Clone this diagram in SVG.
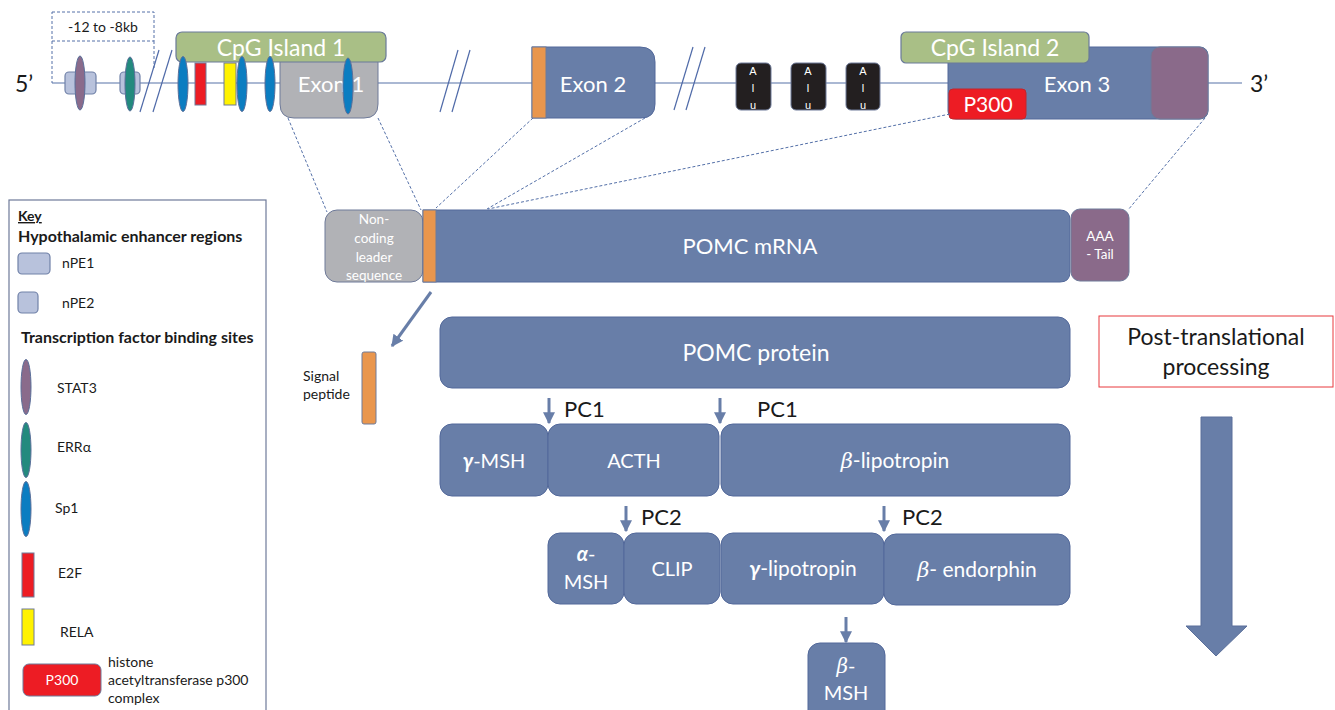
<svg xmlns="http://www.w3.org/2000/svg" width="1335" height="710" viewBox="0 0 1335 710">
<defs>
<style>
.t{font-family:Lato,"Open Sans","Liberation Sans",sans-serif}
.w{fill:#fff}
.k{fill:#1a1a1a}
.bx{fill:#687ea8;stroke:#52689a;stroke-width:1}
.gr{fill:#b1b2b6;stroke:#6e7a99;stroke-width:1}
.pu{fill:#8a6a8a;stroke:#6e7a99;stroke-width:1}
.or{fill:#e9964d;stroke:#6e7a99;stroke-width:1}
.cg{fill:#a9bf86;stroke:#6a7a99;stroke-width:1.2}
.rd{fill:#ed1c24;stroke:#6e7a99;stroke-width:1}
.ye{fill:#fff200;stroke:#6e7a99;stroke-width:1}
.sp{fill:#0b7dc1;stroke:#5a6f9a;stroke-width:1}
.er{fill:#238a7e;stroke:#5a6f9a;stroke-width:1}
.st{fill:#8a6b8b;stroke:#5a6f9a;stroke-width:1}
.np{fill:#b8c2dc;stroke:#7081a8;stroke-width:1.2}
.alu{fill:#231f20;stroke:#6e7a99;stroke-width:1}
.ds{fill:none;stroke:#5470a8;stroke-width:1;stroke-dasharray:3,2}
.brk{stroke:#4f6aa8;stroke-width:1.2}
.ar{stroke:#687ea8;stroke-width:3;fill:none}
.kt{font-size:14px}
</style>
<marker id="m" viewBox="0 0 10 10" refX="9" refY="5" markerWidth="4" markerHeight="4" orient="auto"><path d="M0,0 L10,5 L0,10 z" fill="#687ea8"/></marker>
</defs>
<rect width="1335" height="710" fill="#fff"/>

<!-- DNA line -->
<line x1="52" y1="83" x2="1242" y2="83" stroke="#8ea0c4" stroke-width="1.5"/>
<text class="t k" x="15" y="92" font-size="23">5’</text>
<text class="t k" x="1250" y="92" font-size="23">3’</text>

<g id="region">
<rect x="52" y="12" width="102" height="29" fill="#fff" stroke="#5470a8" stroke-width="1" stroke-dasharray="3,2"/>
<line x1="52" y1="41" x2="52" y2="83" class="ds"/>
<line x1="154" y1="41" x2="154" y2="68" class="ds"/>
<text class="t k" x="103" y="32" font-size="14" text-anchor="middle">-12 to -8kb</text>
</g>

<g id="nPE1"><rect x="65" y="72" width="31" height="22" rx="4" class="np"/><ellipse cx="80" cy="83" rx="5" ry="27" class="st"/></g>
<g id="nPE2"><rect x="120" y="72" width="20" height="22" rx="4" class="np"/><ellipse cx="130" cy="84" rx="5" ry="27" class="er"/></g>

<g id="breaks">
<line x1="140" y1="112" x2="159" y2="50" class="brk"/><line x1="153" y1="112" x2="172" y2="50" class="brk"/>
<line x1="440" y1="112" x2="458" y2="50" class="brk"/><line x1="452" y1="112" x2="470" y2="50" class="brk"/>
<line x1="674" y1="110" x2="693" y2="47" class="brk"/><line x1="686" y1="110" x2="705" y2="47" class="brk"/>
</g>

<g id="exon1"><path d="M280,50 H378 V104 Q378,118 364,118 H294 Q280,118 280,104 Z" class="gr"/></g>
<g id="cpg1"><rect x="176" y="32" width="210" height="30" rx="6" class="cg"/><text class="t w" x="281" y="56" font-size="23" text-anchor="middle">CpG Island 1</text></g>
<text class="t w" x="331" y="92" font-size="22" text-anchor="middle">Exon 1</text>
<g id="tfbs">
<ellipse cx="183" cy="84" rx="5" ry="27.5" class="sp"/>
<rect x="195" y="63" width="11" height="42" class="rd"/>
<rect x="224" y="63" width="12" height="42" class="ye"/>
<ellipse cx="242" cy="84" rx="5" ry="27.5" class="sp"/>
<ellipse cx="270" cy="84" rx="5" ry="27.5" class="sp"/>
<ellipse cx="348" cy="86" rx="5" ry="28" class="sp"/>
</g>

<g id="exon2">
<path d="M532,47 H640 Q655,47 655,62 V104 Q655,118 641,118 H532 Z" class="bx"/>
<rect x="532" y="47" width="14" height="71" class="or"/>
<text class="t w" x="593" y="92" font-size="22" text-anchor="middle">Exon 2</text>
</g>

<g id="alu1"><rect x="736" y="63" width="35" height="47" rx="5" class="alu"/><text font-family="'Liberation Sans',sans-serif" fill="#fff" font-size="11" text-anchor="middle"><tspan x="753" y="75">A</tspan><tspan x="753" y="92">l</tspan><tspan x="753" y="109">u</tspan></text></g>
<g id="alu2"><rect x="791" y="63" width="35" height="47" rx="5" class="alu"/><text font-family="'Liberation Sans',sans-serif" fill="#fff" font-size="11" text-anchor="middle"><tspan x="808" y="75">A</tspan><tspan x="808" y="92">l</tspan><tspan x="808" y="109">u</tspan></text></g>
<g id="alu3"><rect x="846" y="63" width="34" height="47" rx="5" class="alu"/><text font-family="'Liberation Sans',sans-serif" fill="#fff" font-size="11" text-anchor="middle"><tspan x="863" y="75">A</tspan><tspan x="863" y="92">l</tspan><tspan x="863" y="109">u</tspan></text></g>

<g id="exon3">
<rect x="948" y="47" width="260" height="72" rx="8" class="bx"/>
<rect x="1151" y="47" width="57" height="72" rx="9" class="pu"/>
<text class="t w" x="1077" y="92" font-size="22" text-anchor="middle">Exon 3</text>
</g>
<g id="cpg2"><rect x="901" y="32" width="188" height="31" rx="5" class="cg"/><text class="t w" x="995" y="56" font-size="23" text-anchor="middle">CpG Island 2</text></g>
<g id="p300"><rect x="949" y="89" width="77" height="30" rx="4" fill="#ed1c24" stroke="#c0262c" stroke-width="1"/><text class="t w" x="988" y="112" font-size="21" text-anchor="middle">P300</text></g>

<g id="connectors">
<line x1="288" y1="118" x2="327" y2="212" class="ds"/>
<line x1="378" y1="118" x2="421" y2="210" class="ds"/>
<line x1="533" y1="118" x2="436" y2="208" class="ds"/>
<line x1="645" y1="118" x2="487" y2="209" class="ds"/>
<line x1="950" y1="114" x2="488" y2="209" class="ds"/>
<line x1="1205" y1="118" x2="1128" y2="210" class="ds"/>
<line x1="431" y1="292" x2="392" y2="346" class="ar" marker-end="url(#m)"/>
<line x1="549" y1="398" x2="549" y2="423" stroke="#687ea8" stroke-width="3" marker-end="url(#m)"/>
<line x1="720" y1="398" x2="720" y2="423" stroke="#687ea8" stroke-width="3" marker-end="url(#m)"/>
<line x1="626" y1="506" x2="626" y2="531" stroke="#687ea8" stroke-width="3" marker-end="url(#m)"/>
<line x1="884" y1="506" x2="884" y2="531" stroke="#687ea8" stroke-width="3" marker-end="url(#m)"/>
<line x1="846" y1="617" x2="846" y2="642" stroke="#687ea8" stroke-width="3" marker-end="url(#m)"/>
</g>

<g id="leader"><rect x="325" y="210" width="98" height="72" rx="12" class="gr"/>
<text class="t w" font-size="13.5" text-anchor="middle"><tspan x="374" y="224">Non-</tspan><tspan x="374" y="243">coding</tspan><tspan x="374" y="262">leader</tspan><tspan x="374" y="280">sequence</tspan></text></g>
<g id="mrna"><path d="M423,210 H1060 Q1070,210 1070,220 V272 Q1070,282 1060,282 H423 Z" class="bx"/>
<rect x="423" y="210" width="13" height="72" class="or"/>
<text class="t w" x="750" y="254" font-size="22" text-anchor="middle">POMC mRNA</text></g>
<g id="tail"><rect x="1071" y="209" width="58" height="72" rx="9" class="pu"/>
<text class="t w" font-size="13.5" text-anchor="middle"><tspan x="1100" y="241">AAA</tspan><tspan x="1100" y="259">- Tail</tspan></text></g>

<g id="signal"><rect x="362" y="352" width="14" height="72" rx="2" class="or"/>
<text class="t k" font-size="14"><tspan x="303" y="381">Signal</tspan><tspan x="303" y="399">peptide</tspan></text></g>

<g id="protein"><rect x="440" y="317" width="630" height="71" rx="12" class="bx"/><text class="t w" x="756" y="361" font-size="23" text-anchor="middle">POMC protein</text></g>

<text class="t k" x="564" y="417" font-size="22">PC1</text>
<text class="t k" x="757" y="417" font-size="22">PC1</text>
<text class="t k" x="641" y="525" font-size="22">PC2</text>
<text class="t k" x="902" y="525" font-size="22">PC2</text>

<g id="gmsh"><rect x="440" y="424" width="108" height="72" rx="12" class="bx"/><text class="t w" x="494" y="468" font-size="20" text-anchor="middle"><tspan font-weight="bold" font-style="italic">γ</tspan>-MSH</text></g>
<g id="acth"><rect x="548" y="424" width="171" height="72" rx="12" class="bx"/><text class="t w" x="634" y="468" font-size="20" text-anchor="middle">ACTH</text></g>
<g id="blpt"><rect x="721" y="424" width="349" height="72" rx="12" class="bx"/><text class="t w" x="895" y="468" font-size="21" text-anchor="middle"><tspan font-style="italic" font-family="'DejaVu Serif',serif">β</tspan>-lipotropin</text></g>

<g id="amsh"><rect x="548" y="533" width="76" height="71" rx="12" class="bx"/><text class="t w" font-size="20" text-anchor="middle"><tspan x="586" y="561" font-weight="bold" font-style="italic">α</tspan><tspan>-</tspan><tspan x="586" y="589">MSH</tspan></text></g>
<g id="clip"><rect x="624" y="533" width="96" height="71" rx="12" class="bx"/><text class="t w" x="672" y="576" font-size="20" text-anchor="middle">CLIP</text></g>
<g id="glpt"><rect x="721" y="533" width="163" height="71" rx="12" class="bx"/><text class="t w" x="803" y="576" font-size="21" text-anchor="middle"><tspan font-weight="bold" font-style="italic">γ</tspan>-lipotropin</text></g>
<g id="bend"><rect x="884" y="534" width="186" height="71" rx="12" class="bx"/><text class="t w" x="977" y="577" font-size="21" text-anchor="middle"><tspan font-style="italic" font-family="'DejaVu Serif',serif">β</tspan>- endorphin</text></g>
<g id="bmsh"><rect x="808" y="643" width="77" height="80" rx="12" class="bx"/><text class="t w" font-size="20" text-anchor="middle"><tspan x="846" y="673" font-style="italic" font-family="'DejaVu Serif',serif">β</tspan><tspan>-</tspan><tspan x="846" y="700">MSH</tspan></text></g>

<g id="ptp"><rect x="1099" y="316" width="234" height="71" fill="#fff" stroke="#e8383d" stroke-width="1"/>
<text class="t k" font-size="23" text-anchor="middle"><tspan x="1216" y="345">Post-translational</tspan><tspan x="1216" y="375">processing</tspan></text></g>
<g id="bigarrow"><path d="M1201,417 H1232 V626 H1247 L1216,656 L1186,626 H1201 Z" fill="#687ea8" stroke="#5a6f9a" stroke-width="1"/></g>

<g id="key">
<rect x="9" y="200" width="257" height="520" fill="#fff" stroke="#6e7a99" stroke-width="1.2"/>
<text class="t k" x="18" y="221" font-size="14" font-weight="bold" text-decoration="underline">Key</text>
<text class="t k" x="18" y="242" font-size="16" font-weight="bold">Hypothalamic enhancer regions</text>
<rect x="18" y="253" width="32" height="21" rx="4" class="np"/>
<text class="t k kt" x="62" y="268">nPE1</text>
<rect x="18" y="292" width="20" height="21" rx="4" class="np"/>
<text class="t k kt" x="62" y="308">nPE2</text>
<text class="t k" x="21" y="343" font-size="16" font-weight="bold">Transcription factor binding sites</text>
<ellipse cx="26" cy="387" rx="5" ry="27.5" class="st"/>
<text class="t k kt" x="57" y="393">STAT3</text>
<ellipse cx="26" cy="450" rx="5" ry="27.5" class="er"/>
<text class="t k kt" x="57" y="452">ERRα</text>
<ellipse cx="26" cy="509" rx="5" ry="27.5" class="sp"/>
<text class="t k kt" x="55" y="513">Sp1</text>
<rect x="22" y="553" width="12" height="44" class="rd"/>
<text class="t k kt" x="58" y="578">E2F</text>
<rect x="22" y="609" width="12" height="36" class="ye"/>
<text class="t k kt" x="60" y="637">RELA</text>
<rect x="23" y="664" width="78" height="32" rx="6" fill="#ed1c24" stroke="#6e7a99" stroke-width="1"/>
<text class="t w" x="62" y="685" font-size="14" text-anchor="middle">P300</text>
<text class="t k kt"><tspan x="108" y="667">histone</tspan><tspan x="108" y="685">acetyltransferase p300</tspan><tspan x="108" y="703">complex</tspan></text>
</g>
</svg>
